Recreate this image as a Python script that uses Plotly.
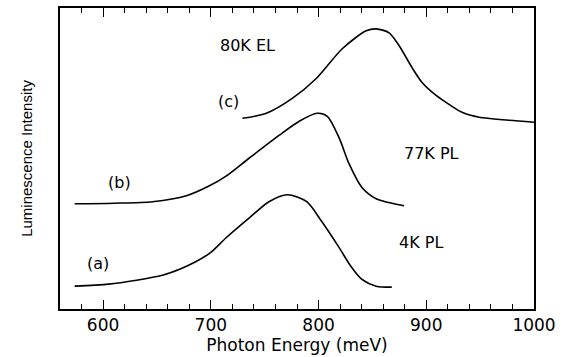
import plotly.graph_objects as go

# Curve (a) 4K PL
a_x = [573.6, 605, 631, 655, 671, 685, 700, 714.5, 736, 754, 771, 789, 803, 819, 830, 840, 853.5, 868]
a_y = [23, 25, 29, 34, 40, 47, 57, 72, 92, 108, 115, 108, 88, 62, 43, 30, 23, 22]

# Curve (b) 77K PL
b_x = [573.6, 610, 645.9, 677.4, 698.7, 714.5, 735.8, 763.6, 782.1, 798.8, 808.1, 819.2, 828.4, 840.5, 853.5, 879.4]
b_y = [106, 106.5, 108, 114, 124, 134, 152, 175, 189, 197, 194, 172, 146, 122, 111, 104]

# Curve (c) 80K EL
c_x = [729.3, 751.5, 775.6, 797.9, 822, 844.2, 853.5, 865.5, 874.8, 886.8, 896.1, 909.1, 921.1, 933.2, 949, 976.7, 1000]
c_y = [192, 197, 212, 232, 262, 280, 282, 278, 265, 243, 228, 215, 206, 198, 193, 190, 188]

x_ticks = [600, 700, 800, 900, 1000]

labels = [
    ("80K EL", 734, 265),
    ("(c)", 716, 209),
    ("77K PL", 905, 157),
    ("(b)", 615, 127),
    ("4K PL", 895, 67),
    ("(a)", 595, 46),
]

fig = go.Figure()
for xs, ys in [(a_x, a_y), (b_x, b_y), (c_x, c_y)]:
    fig.add_trace(go.Scatter(x=xs, y=ys, mode="lines", line=dict(color="black", width=1.6, shape="spline", smoothing=0.8),
                             showlegend=False, hoverinfo="skip"))

for t, x, y in labels:
    fig.add_annotation(x=x, y=y, text=t, showarrow=False,
                       font=dict(family="DejaVu Sans", size=16, color="black"))

fig.update_layout(
    width=572, height=357,
    margin=dict(l=60, r=38, t=6, b=48),
    plot_bgcolor="white", paper_bgcolor="white",
    font=dict(family="DejaVu Sans", color="black"),
)
fig.update_xaxes(
    range=[560, 1000], tickvals=x_ticks, ticktext=[str(v) for v in x_ticks],
    ticks="inside", ticklen=9, tickwidth=1.3, tickcolor="black",
    minor=dict(dtick=20, ticks="inside", ticklen=5, tickwidth=1.1, tickcolor="black"),
    showline=True, linecolor="black", linewidth=1.6, mirror="ticks",
    showgrid=False, zeroline=False,
    tickfont=dict(family="DejaVu Sans", size=17, color="black"),
    title=dict(text="Photon Energy (meV)", font=dict(family="DejaVu Sans", size=17, color="black"), standoff=0),
)
fig.update_yaxes(
    range=[0, 303], showticklabels=False, tickvals=[],
    showline=True, linecolor="black", linewidth=1.6, mirror=True,
    showgrid=False, zeroline=False,
    title=dict(text="Luminescence Intensity", font=dict(family="Liberation Sans Narrow, Liberation Sans", size=15, color="black"), standoff=22),
)

fig.write_html("out.html", config={"displayModeBar": False},
               post_script="document.body.style.margin='0';")
